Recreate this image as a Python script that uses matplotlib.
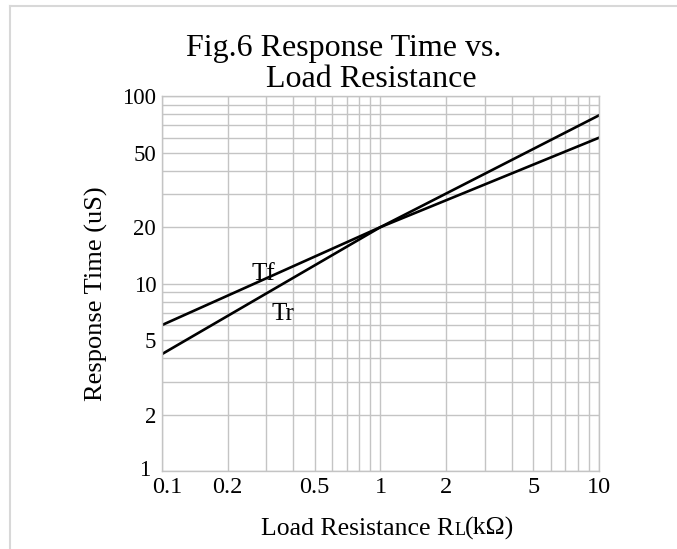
import numpy as np
import matplotlib.pyplot as plt
from matplotlib.ticker import FixedLocator, LogLocator, NullFormatter
from matplotlib.lines import Line2D
from matplotlib.offsetbox import TextArea, HPacker, AnchoredOffsetbox
from matplotlib.transforms import ScaledTranslation

plt.rcParams['font.family'] = ['Liberation Serif', 'DejaVu Serif']

# values
res_k = [0.1, 1, 10]
t_fall = [6, 20, 60]
t_rise = [4.2, 20, 79]

x_ticks = [0.1, 0.2, 0.5, 1, 2, 5, 10]
x_labels = ['0.1', '0.2', '0.5', '1', '2', '5', '10']
y_ticks = [1, 2, 5, 10, 20, 50, 100]
y_labels = ['1', '2', '5', '10', '20', '50', '100']

fig = plt.figure(figsize=(6.77, 5.49), dpi=100)
ax = fig.add_axes([0.239, 0.142, 0.646, 0.683])

ax.plot(res_k, t_fall, color='black', lw=1.9)
ax.plot(res_k, t_rise, color='black', lw=1.9)

ax.set_xscale('log')
ax.set_yscale('log')
ax.set_xlim(0.1, 10)
ax.set_ylim(1, 100)

ax.xaxis.set_major_locator(FixedLocator(x_ticks))
ax.set_xticklabels(x_labels)
ax.yaxis.set_major_locator(FixedLocator(y_ticks))
ax.set_yticklabels(y_labels)
for axis in (ax.xaxis, ax.yaxis):
    axis.set_minor_locator(LogLocator(base=10, subs=np.arange(1, 10)))
    axis.set_minor_formatter(NullFormatter())

ax.grid(True, which='both', color='#c4c4c4', lw=1.0)
ax.tick_params(which='both', length=0)
ax.tick_params(axis='y', labelsize=16.5, pad=4)
ax.tick_params(axis='x', labelsize=17.5, pad=4)
for s in ax.spines.values():
    s.set_color('#c4c4c4')
    s.set_linewidth(1.0)

# the first x label sits a little right of the axis corner, the "1" a little left
lab0 = ax.xaxis.get_major_ticks()[0].label1
lab0.set_transform(lab0.get_transform() + ScaledTranslation(0.05, 0, fig.dpi_scale_trans))
lab1 = ax.yaxis.get_major_ticks()[0].label1
lab1.set_transform(lab1.get_transform() + ScaledTranslation(-0.06, 0.03, fig.dpi_scale_trans))

ax.text(0.258, 10.4, 'Tf', fontsize=18, va='baseline')
ax.text(0.319, 6.43, 'Tr', fontsize=18, va='baseline')

fig.text(0.143, 0.465, 'Response Time (uS)', fontsize=19, rotation=90,
         ha='center', va='center')

# x label with the small "L" sitting on the baseline
parts = [TextArea('Load Resistance R', textprops=dict(fontsize=18.5)),
         TextArea('L', textprops=dict(fontsize=13)),
         TextArea('(k\u03a9)', textprops=dict(fontsize=18.5))]
xlab = AnchoredOffsetbox(loc='center', child=HPacker(children=parts, align='baseline', pad=0, sep=0),
                         frameon=False, pad=0, borderpad=0,
                         bbox_to_anchor=(0.573, 0.037), bbox_transform=fig.transFigure)
fig.add_artist(xlab)

fig.text(0.507, 0.898, 'Fig.6 Response Time vs.', fontsize=23, ha='center', va='baseline')
fig.text(0.548, 0.842, 'Load Resistance', fontsize=23, ha='center', va='baseline')

# light border of the scanned sheet
fig.add_artist(Line2D([0.015, 1.0], [0.989, 0.989], color='#d8d8d8', lw=1.5))
fig.add_artist(Line2D([0.015, 0.015], [0.0, 0.989], color='#d8d8d8', lw=1.5))

fig.savefig('out.png', dpi=100)
